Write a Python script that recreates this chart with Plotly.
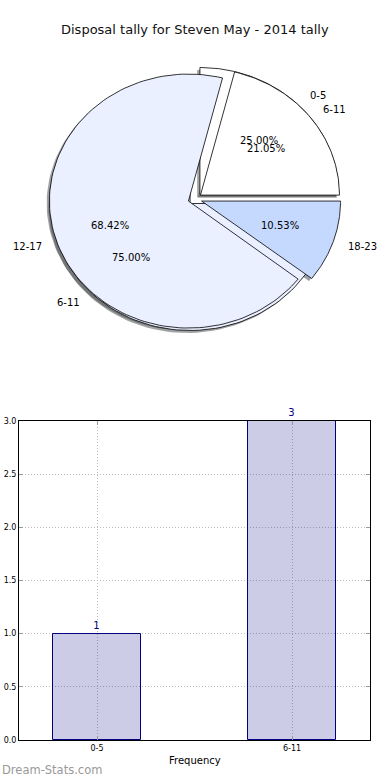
import numpy as np
import plotly.graph_objects as go

title_text = "Disposal tally for Steven May - 2014 tally"

# Pie 1 (drawn underneath)
pie1_labels = ["0-5", "6-11"]
pie1_values = [1, 3]
# Pie 2 (drawn on top)
pie2_labels = ["6-11", "12-17", "18-23"]
pie2_values = [4, 13, 2]

pie_colors = ["#FFFFFF", "#EAF0FF", "#C5D9FF"]
explode = 0.05

# Bar chart
bar_categories = ["0-5", "6-11"]
bar_values = [1, 3]
y_ticks = [0.0, 0.5, 1.0, 1.5, 2.0, 2.5, 3.0]
x_label = "Frequency"
watermark = "Dream-Stats.com"

W, H = 390, 780
FONT = "DejaVu Sans"

fig = go.Figure()


def hex_to_rgb(h):
    h = h.lstrip("#")
    return tuple(int(h[i:i + 2], 16) for i in (0, 2, 4))


def wedges(values):
    total = float(sum(values))
    out = []
    t = 0.0
    for v in values:
        t2 = t + 360.0 * v / total
        out.append((t, t2))
        t = t2
    return out


def wedge_xy(t1, t2, e, dx=0.0, dy=0.0, n=120):
    mid = np.radians((t1 + t2) / 2.0)
    cx = e * np.cos(mid) + dx
    cy = e * np.sin(mid) + dy
    th = np.radians(np.linspace(t1, t2, n))
    xs = np.concatenate([[cx], cx + np.cos(th), [cx]])
    ys = np.concatenate([[cy], cy + np.sin(th), [cy]])
    return xs, ys


pies = [(pie1_labels, pie1_values), (pie2_labels, pie2_values)]

# shadows first (lower z-order), then wedges
for labels, values in pies:
    for i, (t1, t2) in enumerate(wedges(values)):
        r, g, b = hex_to_rgb(pie_colors[i % len(pie_colors)])
        xs, ys = wedge_xy(t1, t2, explode, -0.02, -0.02)
        fig.add_trace(go.Scatter(
            x=xs, y=ys, mode="lines", fill="toself",
            fillcolor=f"rgba({int(r*0.3)},{int(g*0.3)},{int(b*0.3)},0.5)",
            line=dict(width=0), xaxis="x2", yaxis="y2",
            hoverinfo="skip", showlegend=False))

for labels, values in pies:
    for i, (t1, t2) in enumerate(wedges(values)):
        xs, ys = wedge_xy(t1, t2, explode)
        fig.add_trace(go.Scatter(
            x=xs, y=ys, mode="lines", fill="toself",
            fillcolor=pie_colors[i % len(pie_colors)],
            line=dict(color="black", width=0.8), xaxis="x2", yaxis="y2",
            hoverinfo="skip", showlegend=False))

annotations = []
for labels, values in pies:
    total = float(sum(values))
    for i, (t1, t2) in enumerate(wedges(values)):
        mid = np.radians((t1 + t2) / 2.0)
        lx = (1.1 + explode) * np.cos(mid)
        ly = (1.1 + explode) * np.sin(mid)
        annotations.append(dict(
            x=lx, y=ly, xref="x2", yref="y2", text=labels[i], showarrow=False,
            xanchor="left" if lx > 0 else "right", yanchor="middle",
            font=dict(family=FONT, size=10, color="black")))
        px = (0.6 + explode) * np.cos(mid)
        py = (0.6 + explode) * np.sin(mid)
        annotations.append(dict(
            x=px, y=py, xref="x2", yref="y2",
            text=f"{100.0 * values[i] / total:.2f}%", showarrow=False,
            xanchor="center", yanchor="middle",
            font=dict(family=FONT, size=10, color="black")))

# Bar chart
fig.add_trace(go.Bar(
    x=bar_categories, y=bar_values, width=0.45,
    marker=dict(color="rgba(0,0,128,0.2)", line=dict(color="navy", width=1)),
    text=[str(v) for v in bar_values], textposition="outside",
    textfont=dict(family=FONT, size=10, color="navy"),
    cliponaxis=False, hoverinfo="skip", showlegend=False))

annotations.append(dict(
    x=0.5, y=1 - 30 / H, xref="paper", yref="paper", text=title_text,
    showarrow=False, xanchor="center", yanchor="middle",
    font=dict(family=FONT, size=13, color="#111")))
annotations.append(dict(
    x=195 / W, y=1 - 760 / H, xref="paper", yref="paper", text=x_label,
    showarrow=False, xanchor="center", yanchor="middle",
    font=dict(family=FONT, size=10, color="black")))
annotations.append(dict(
    x=0.0, y=1 - 770 / H, xref="paper", yref="paper", text=watermark,
    showarrow=False, xanchor="left", yanchor="middle",
    font=dict(family=FONT, size=11.5, color="#999999")))

cx, cy, rx, ry = 195.0, 199.0, 139.0, 127.0

grid_style = dict(showgrid=True, gridcolor="#bdbdbd", griddash="1px,2px", gridwidth=1)

fig.update_layout(
    width=W, height=H,
    margin=dict(l=0, r=0, t=0, b=0),
    paper_bgcolor="white", plot_bgcolor="white",
    showlegend=False,
    bargap=0,
    annotations=annotations,
    xaxis=dict(
        domain=[19 / W, 370 / W], range=[-0.4, 1.4], type="category",
        showline=True, linecolor="black", linewidth=1, mirror="ticks",
        ticks="inside", ticklen=4, tickcolor="#999",
        tickfont=dict(family=FONT, size=8, color="black"),
        zeroline=False, automargin=False, fixedrange=True, **grid_style),
    yaxis=dict(
        domain=[1 - 740 / H, 1 - 421 / H], range=[0, 3],
        tickvals=y_ticks, tickformat=".1f",
        showline=True, linecolor="black", linewidth=1, mirror="ticks",
        ticks="inside", ticklen=4, tickcolor="#999",
        tickfont=dict(family=FONT, size=8, color="black"),
        zeroline=False, automargin=False, fixedrange=True, **grid_style),
    xaxis2=dict(
        domain=[0, 1], range=[-cx / rx, (W - cx) / rx],
        visible=False, fixedrange=True, anchor="y2"),
    yaxis2=dict(
        domain=[0.5, 1], range=[-(390 - cy) / ry, cy / ry],
        visible=False, fixedrange=True, anchor="x2"),
)

fig.write_html(
    "out.html",
    config={"displayModeBar": False},
    post_script="document.body.style.margin='0px';document.body.style.overflow='hidden';")
